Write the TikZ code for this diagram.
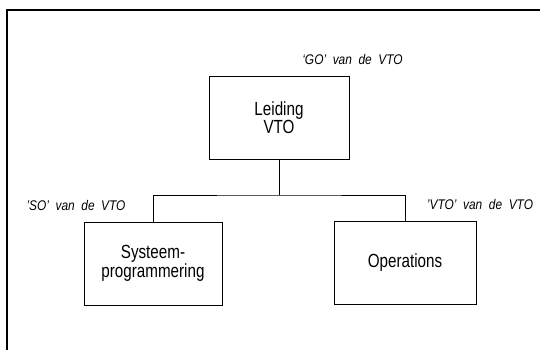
\documentclass[tikz,border=0pt]{standalone}
\usepackage{fontspec}
\setmainfont{Liberation Sans}
\newfontfamily\boxfont[FakeStretch=0.8]{Liberation Sans}
\newfontfamily\tagfont[FakeStretch=0.85]{Liberation Sans}
\begin{document}
\begin{tikzpicture}[x=1pt,y=-1pt,
  unit/.style={draw,line width=0.9pt,minimum width=138pt,minimum height=83pt,
    align=center,inner sep=0pt,
    font=\boxfont\fontsize{19}{18.5}\selectfont},
  tag/.style={font=\tagfont\itshape\fontsize{14}{15}\selectfont,inner sep=0pt},
  link/.style={line width=0.8pt}]
  \useasboundingbox (0,0) rectangle (540,350);
  % frame (open to the right and bottom)
  \draw[line width=1.2pt] (7,350) -- (7,10) -- (540,10);
  % boxes
  \node[unit,minimum width=140pt] (lead) at (279,117.5) {Leiding\\VTO};
  \node[unit] (sys) at (153,263.5) {Systeem-\\programmering};
  \node[unit,minimum width=142pt] (ops) at (405,263) {Operations};
  % labels
  \node[tag] (go) at (352.5,60) {‘GO’\ \ van\ \ de\ \ VTO};
  \node[tag] (so) at (76,205) {’SO’\ \ van\ \ de\ \ VTO};
  \node[tag] (vto) at (480,204) {’VTO’\ \ van\ \ de\ \ VTO};
  % connectors
  \coordinate (bar) at (279,195);
  \draw[link] (lead.south) -- (bar);
  \draw[link] (sys.north) |- (bar) -| (ops.north);
\end{tikzpicture}
\end{document}
